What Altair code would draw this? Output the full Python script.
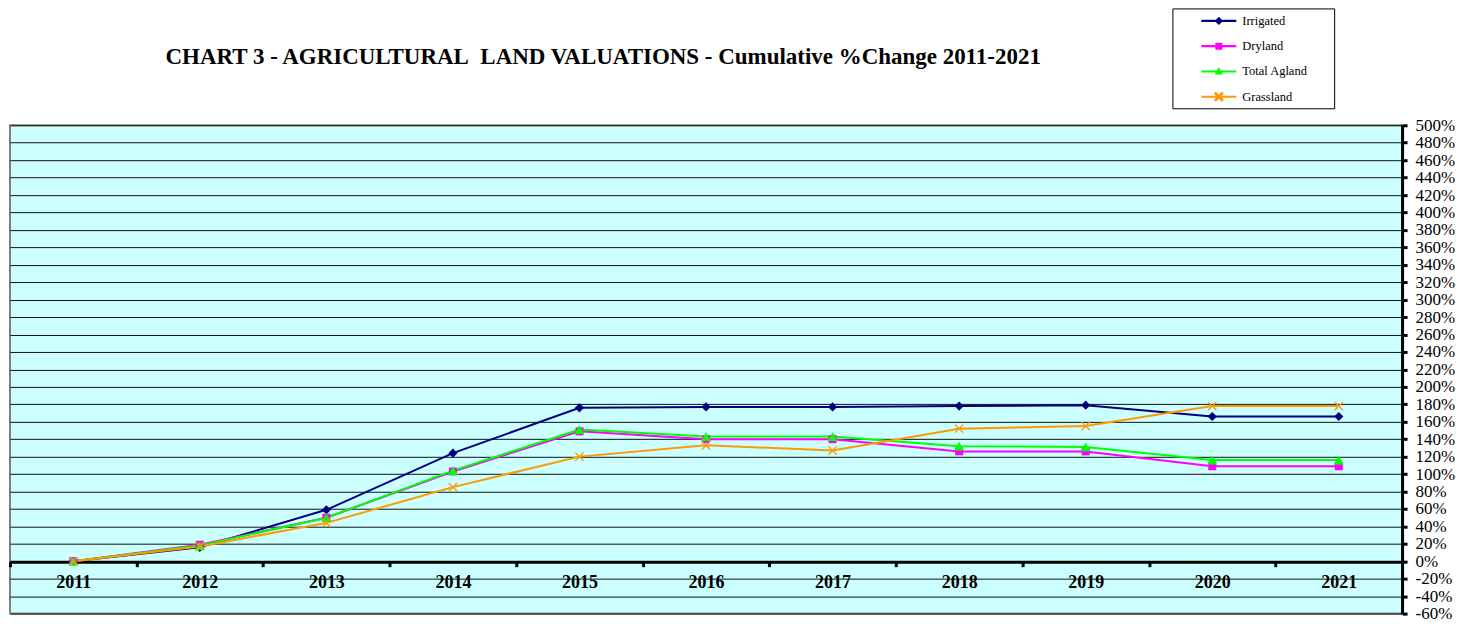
import altair as alt
import pandas as pd

years = [2011, 2012, 2013, 2014, 2015, 2016, 2017, 2018, 2019, 2020, 2021]
series_names = ["Irrigated", "Dryland", "Total Agland", "Grassland"]
irrigated = [0, 16, 59, 124, 176, 177, 177, 178, 179, 166, 166]
dryland = [0, 19, 50, 103, 149, 140, 140, 126, 126, 109, 109]
total_agland = [0, 18, 50, 104, 151, 143, 143, 132, 131, 116, 116]
grassland = [0, 17, 44, 85, 120, 133, 127, 152, 155, 178, 178]
y_ticks = list(range(-60, 501, 20))
colors = ["#000080", "#FF00FF", "#00FF00", "#FF9900"]
title_text = "CHART 3 - AGRICULTURAL\u00a0 LAND VALUATIONS - Cumulative %Change 2011-2021"

rows = []
for name, vals in zip(series_names, [irrigated, dryland, total_agland, grassland]):
    for yr, v in zip(years, vals):
        rows.append({"year": str(yr), "series": name, "value": v})
df = pd.DataFrame(rows)

W, H = 1394, 489
FONT = "Liberation Serif"

x_enc = alt.X("year:O", title=None,
              scale=alt.Scale(type="band", paddingInner=0, paddingOuter=0),
              axis=alt.Axis(orient="bottom", offset=-52, domainColor="black", domainWidth=3,
                            tickColor="black", tickWidth=3, tickSize=5, tickBand="extent",
                            labelFont=FONT, labelFontSize=18, labelFontWeight="bold",
                            labelColor="black", labelPadding=7, labelAngle=0, grid=False))
y_enc = alt.Y("value:Q", title=None,
              scale=alt.Scale(domain=[-60, 500], nice=False, zero=False),
              axis=alt.Axis(orient="right", values=y_ticks, labelExpr="datum.value + '%'",
                            domainColor="black", domainWidth=3, tickColor="black", tickWidth=3,
                            tickSize=5, labelFont=FONT, labelFontSize=17, labelColor="black",
                            labelPadding=8, labelAlign="left", labelBaseline="middle",
                            grid=True, gridColor="#111111", gridWidth=1, gridOpacity=1,
                            labelOverlap=False, labelBound=False, labelFlush=False))
color_scale = alt.Scale(domain=series_names, range=colors)

# legend symbol paths: line plus marker
legend_shapes = [
    "M-1,-0.06H1V0.06H-1Z M0,-0.24L0.24,0L0,0.24L-0.24,0Z",
    "M-1,-0.06H1V0.06H-1Z M-0.2,-0.2H0.2V0.2H-0.2Z",
    "M-1,-0.06H1V0.06H-1Z M0,-0.24L0.24,0.18L-0.24,0.18Z",
    "M-1,-0.06H1V0.06H-1Z M-0.29,-0.17L-0.17,-0.29L0.29,0.17L0.17,0.29Z M0.17,-0.29L0.29,-0.17L-0.17,0.29L-0.29,0.17Z",
]

base = alt.Chart(df)

leg = alt.Legend(title=None, orient="none", legendX=1193, legendY=-122, zindex=2,
                 labelFont=FONT, labelFontSize=12.5, labelColor="black",
                 labelOffset=6, rowPadding=1.3, symbolSize=1225,
                 symbolStrokeWidth=0, symbolOpacity=1, padding=0)

# invisible layer that only carries the legend (line + marker symbols)
legend_layer = base.mark_point(filled=True, opacity=0).encode(
    x=x_enc, y=y_enc,
    color=alt.Color("series:N", scale=color_scale, legend=leg),
    shape=alt.Shape("series:N", scale=alt.Scale(domain=series_names, range=legend_shapes), legend=leg),
)

legend_box = alt.Chart(pd.DataFrame({"k": [0]})).mark_rect(
    fill="white", stroke="black", strokeWidth=1
).encode(x=alt.value(1164.5), x2=alt.value(1326.5), y=alt.value(-116.5), y2=alt.value(-16.5))

lines = base.mark_line(strokeWidth=2).encode(
    x=x_enc, y=y_enc,
    color=alt.Color("series:N", scale=color_scale),
    detail="series:N",
)

point_shapes = {"Irrigated": ("diamond", 85, True), "Dryland": ("square", 64, True),
                "Total Agland": ("triangle-up", 100, True), "Grassland": ("M-1,-1L1,1M-1,1L1,-1", 70, False)}
point_layers = []
for name in series_names:
    shp, sz, filled = point_shapes[name]
    if filled:
        m = base.mark_point(shape=shp, size=sz, filled=True, opacity=1)
    else:
        m = base.mark_point(shape=shp, size=sz, filled=False, strokeWidth=1.3, opacity=1)
    point_layers.append(
        m.encode(x=x_enc, y=y_enc,
                 color=alt.Color("series:N", scale=color_scale))
        .transform_filter(alt.datum.series == name)
    )

title_layer = alt.Chart(pd.DataFrame({"t": [title_text]})).mark_text(
    font=FONT, fontSize=23, fontWeight="bold", color="black", align="center", baseline="alphabetic"
).encode(text="t:N", x=alt.value(594), y=alt.value(-61))

chart = alt.layer(legend_layer, legend_box, lines, *point_layers, title_layer).properties(
    width=W, height=H,
    autosize=alt.AutoSizeParams(type="none"),
    padding={"left": 2, "top": 117, "right": 55, "bottom": 10},
    background="white",
).configure_view(fill="#CCFFFF", stroke="#808080", strokeWidth=2)

chart.save("out.html", embed_options={"renderer": "svg", "actions": False})
